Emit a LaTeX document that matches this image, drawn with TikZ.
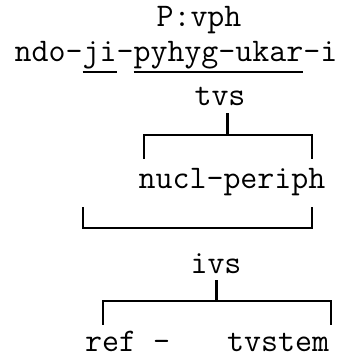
\documentclass[tikz,border=0pt]{standalone}
\usepackage{fontspec}
\usetikzlibrary{positioning}

\newcommand\undrl[1]{\setbox0\hbox{#1}\rlap{\rule[-11.5pt]{\wd0}{1.8pt}}\box0}

\tikzset{
  lbl/.style={inner sep=0pt,anchor=base},
  brk/.style={line width=1.5pt,line cap=rect},
  stem/.style={line width=3pt}
}

\begin{document}
\begin{tikzpicture}[x=1pt,y=-1pt,font=\ttfamily\fontsize{33}{33}\selectfont]
\useasboundingbox (0,0) rectangle (348,360);
% labels
\node[lbl] (pvph) at (199,26) {P:vph};
\node[lbl] (form) at (176,61) {ndo-\undrl{ji}-\undrl{pyhyg-ukar}-i};
\node[lbl] (tvs) at (220,105) {tvs};
\node[lbl] (nucl) at (232,188) {nucl-periph};
\node[lbl] (ivs) at (216,273) {ivs};
\node[lbl,anchor=base west] (ref) at (85,351) {ref -};
\node[lbl,anchor=base west] (tvstem) at (227,351) {tvstem};
% brackets
\coordinate (b1) at (228,135);
\coordinate (b1l) at (144,158);
\coordinate (b1r) at (312,158);
\draw[stem] (b1) -- ++(0,-22);
\draw[brk] (b1l) |- (b1) -| (b1r);
\coordinate (b2l) at (83,208);
\coordinate (b2r) at (312,208);
\draw[brk] (b2l) |- (200,228) -| (b2r);
\coordinate (b3) at (217,301);
\coordinate (b3l) at (103,324);
\coordinate (b3r) at (331,324);
\draw[stem] (b3) -- ++(0,-21);
\draw[brk] (b3l) |- (b3) -| (b3r);
\end{tikzpicture}
\end{document}
